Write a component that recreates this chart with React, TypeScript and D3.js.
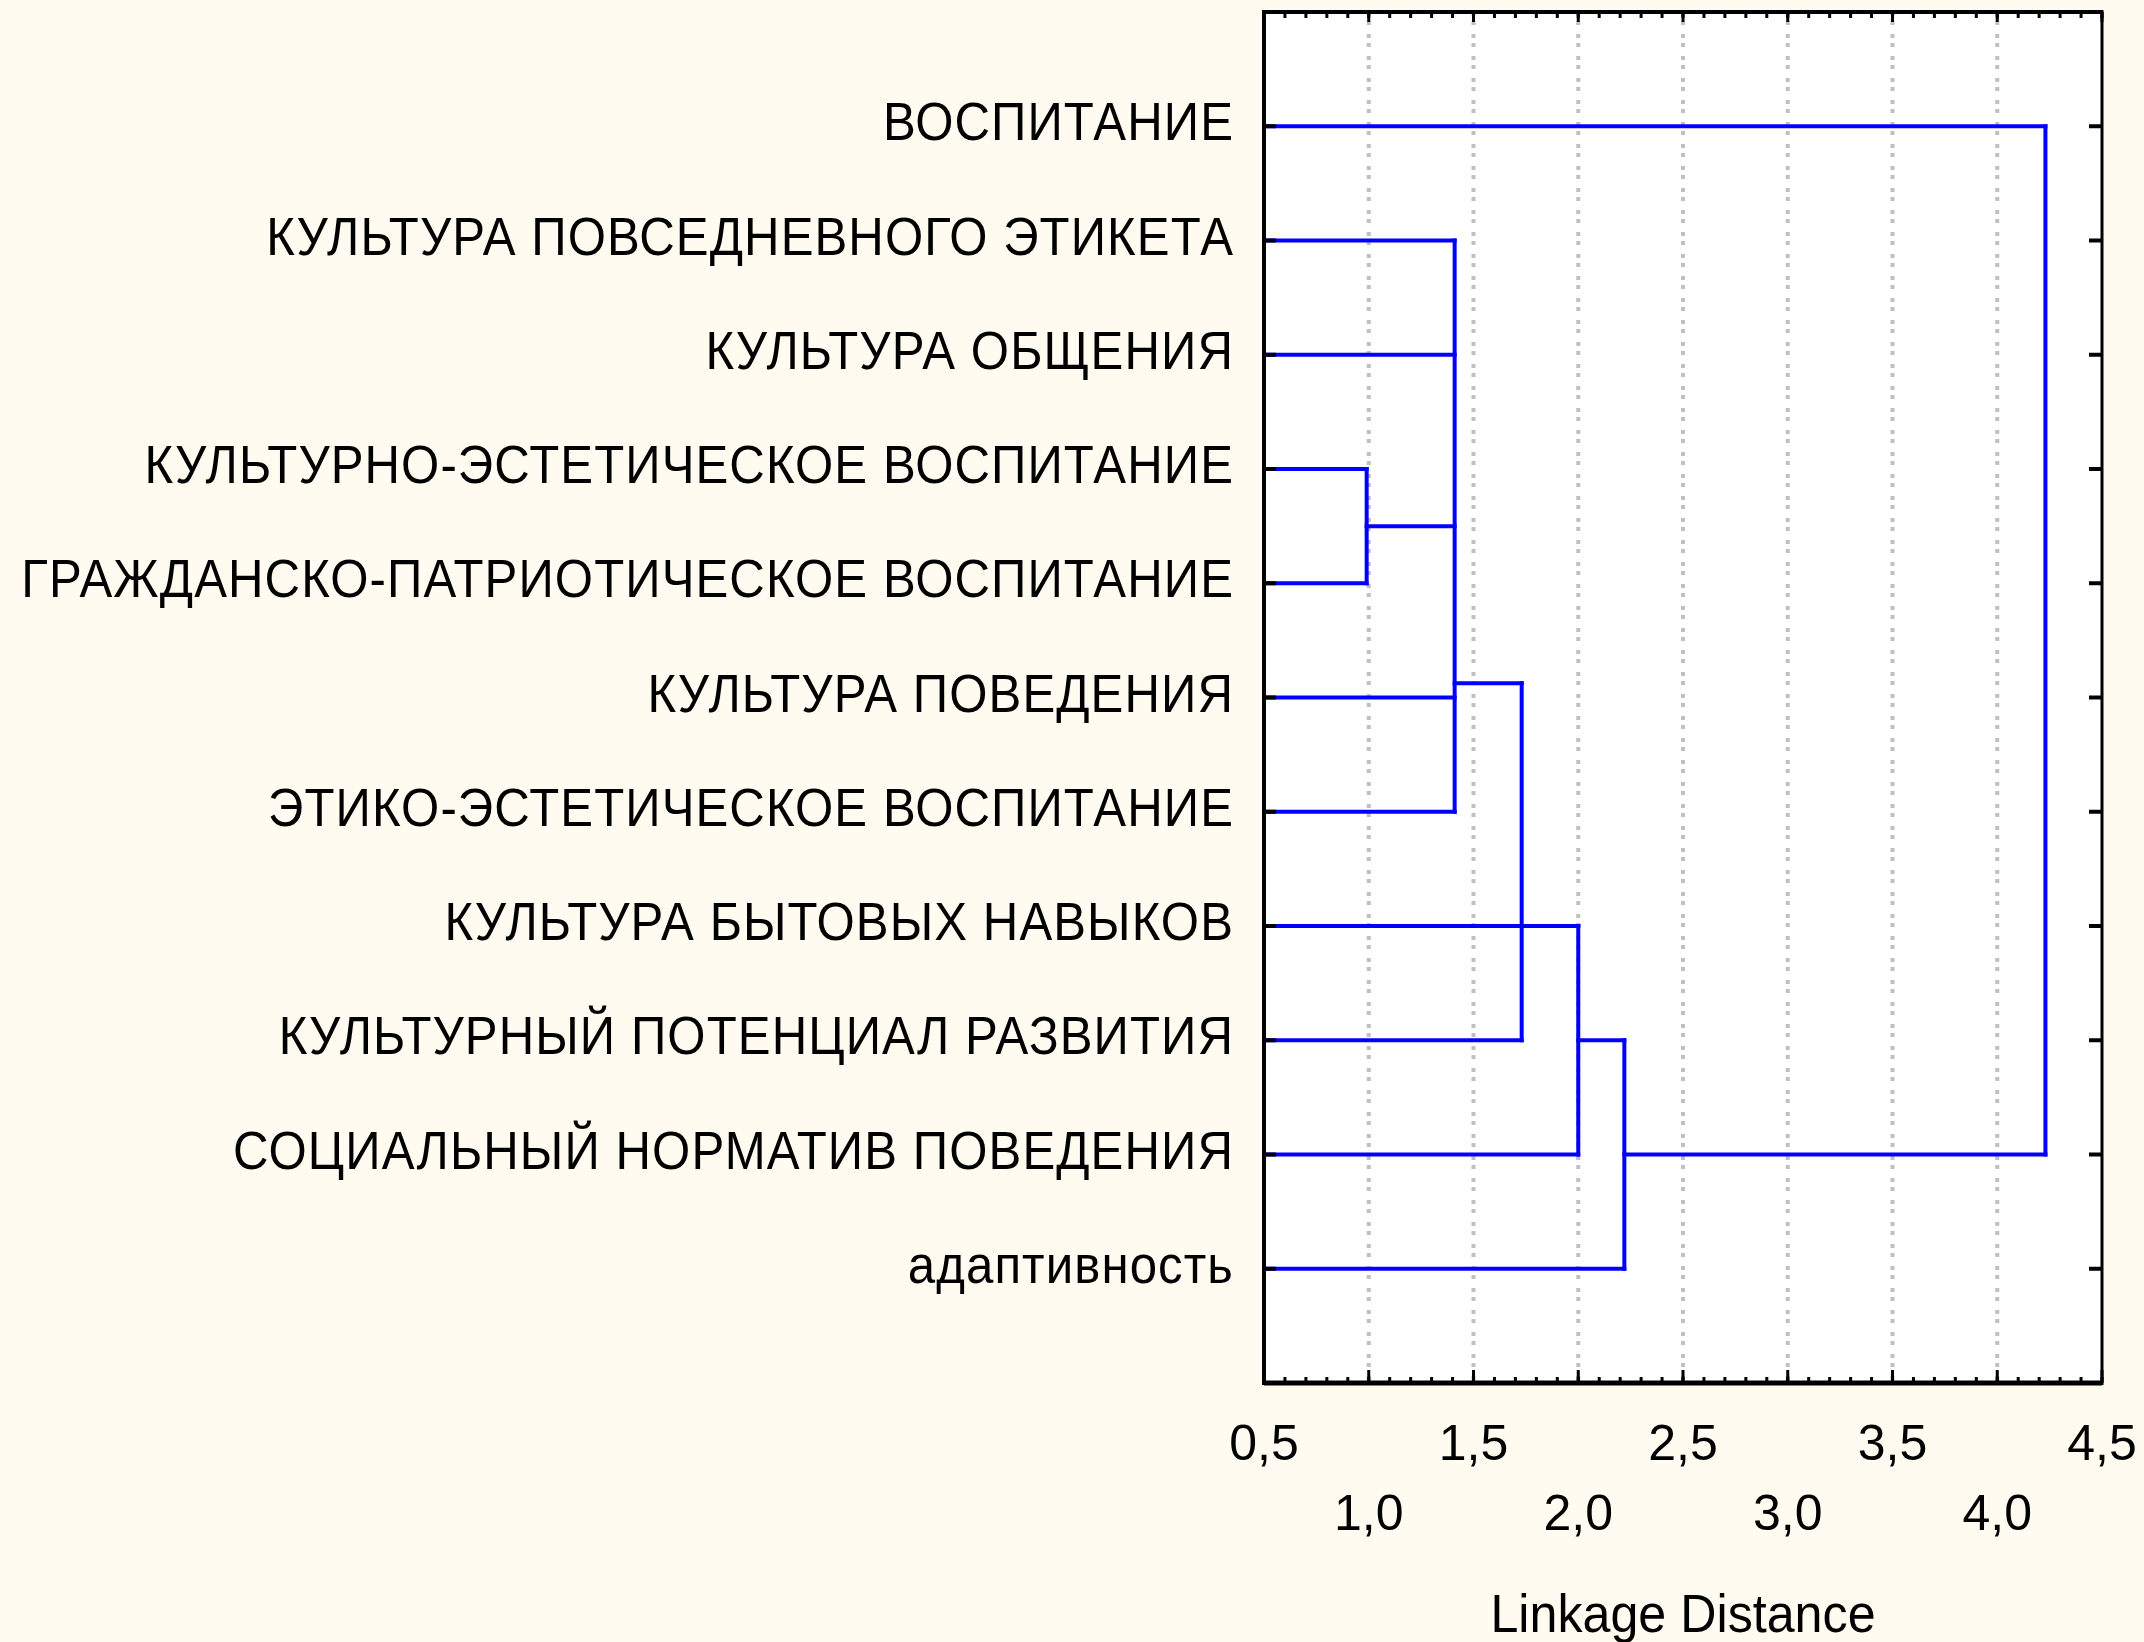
import React from 'react';
import * as d3 from 'd3';

// leaves, top to bottom
const leaves = [
  'ВОСПИТАНИЕ',
  'КУЛЬТУРА ПОВСЕДНЕВНОГО ЭТИКЕТА',
  'КУЛЬТУРА ОБЩЕНИЯ',
  'КУЛЬТУРНО-ЭСТЕТИЧЕСКОЕ ВОСПИТАНИЕ',
  'ГРАЖДАНСКО-ПАТРИОТИЧЕСКОЕ ВОСПИТАНИЕ',
  'КУЛЬТУРА ПОВЕДЕНИЯ',
  'ЭТИКО-ЭСТЕТИЧЕСКОЕ ВОСПИТАНИЕ',
  'КУЛЬТУРА БЫТОВЫХ НАВЫКОВ',
  'КУЛЬТУРНЫЙ ПОТЕНЦИАЛ РАЗВИТИЯ',
  'СОЦИАЛЬНЫЙ НОРМАТИВ ПОВЕДЕНИЯ',
  'адаптивность',
];

// joining steps: members are leaf indices or earlier cluster ids
const clusterIds = ['A', 'B', 'C', 'D', 'E', 'F'];
const clusterMembers: (number | string)[][] = [
  [3, 4],
  [1, 2, 'A', 5, 6],
  ['B', 8],
  [7, 'C', 9],
  ['D', 10],
  [0, 'E'],
];
const clusterDistances = [0.99, 1.41, 1.73, 2.0, 2.22, 4.23];
// Statistica hangs cluster C on the row of leaf 7
const clusterRowOverride: Record<string, number> = { C: 7 };

const majorTicks = [0.5, 1.0, 1.5, 2.0, 2.5, 3.0, 3.5, 4.0, 4.5];
const gridTicks = [1.0, 1.5, 2.0, 2.5, 3.0, 3.5, 4.0];
const axisTitle = 'Linkage Distance';

const W = 2144;
const H = 1642;
const plot = { left: 1264, right: 2102, top: 12, bottom: 1383 };
const FONT = '"Liberation Sans", Arial, sans-serif';

const App = () => {
  const x = d3.scaleLinear().domain([0.5, 4.5]).range([plot.left, plot.right]);
  const row = d3.scaleLinear().domain([-1, leaves.length]).range([plot.top, plot.bottom]);

  const minorTicks = d3.range(5, 46).map(d => d / 10);

  // build segments from the joining steps
  const nodeRow: Record<string, number> = {};
  const nodeDist: Record<string, number> = {};
  const segs: { x1: number; y1: number; x2: number; y2: number }[] = [];
  const rowOf = (m: number | string) => (typeof m === 'number' ? m : nodeRow[m]);
  const distOf = (m: number | string) => (typeof m === 'number' ? 0 : nodeDist[m]);

  clusterIds.forEach((id, i) => {
    const members = clusterMembers[i];
    const dist = clusterDistances[i];
    const rows = members.map(rowOf);
    members.forEach(m => {
      const r = rowOf(m);
      segs.push({ x1: x(Math.max(0.5, distOf(m))), y1: row(r), x2: x(dist), y2: row(r) });
    });
    segs.push({ x1: x(dist), y1: row(d3.min(rows)!), x2: x(dist), y2: row(d3.max(rows)!) });
    let r = rows[0];
    rows.slice(1).forEach(v => { r = (r + v) / 2; });
    nodeRow[id] = clusterRowOverride[id] ?? r;
    nodeDist[id] = dist;
  });

  return (
    <svg width={W} height={H} style={{ position: 'absolute', left: 0, top: 0 }} fontFamily={FONT}>
      <rect width={W} height={H} fill="#fffbf0" />
      <rect x={plot.left} y={plot.top} width={plot.right - plot.left} height={plot.bottom - plot.top} fill="#ffffff" />

      {gridTicks.map(t => (
        <line key={'g' + t} x1={x(t)} x2={x(t)} y1={plot.top} y2={plot.bottom}
          stroke="#c0c0c0" strokeWidth={4} strokeDasharray="4 5 4 9" />
      ))}

      {segs.map((s, i) => (
        <line key={'s' + i} x1={s.x1} y1={s.y1} x2={s.x2} y2={s.y2}
          stroke="#0000ff" strokeWidth={4} strokeLinecap="square" />
      ))}

      {/* frame */}
      <line x1={plot.left} x2={plot.right} y1={plot.top} y2={plot.top} stroke="#000" strokeWidth={4} />
      <line x1={plot.left} x2={plot.right} y1={plot.bottom} y2={plot.bottom} stroke="#000" strokeWidth={5} />
      <line x1={plot.left} x2={plot.left} y1={plot.top - 2} y2={plot.bottom + 2} stroke="#000" strokeWidth={4} />
      <line x1={plot.right} x2={plot.right} y1={plot.top - 2} y2={plot.bottom + 2} stroke="#000" strokeWidth={3} />

      {/* x ticks, inward */}
      {minorTicks.map(t => (
        <g key={'m' + t}>
          <line x1={x(t)} x2={x(t)} y1={plot.top} y2={plot.top + 6} stroke="#000" strokeWidth={3} />
          <line x1={x(t)} x2={x(t)} y1={plot.bottom} y2={plot.bottom - 6} stroke="#000" strokeWidth={3} />
        </g>
      ))}
      {majorTicks.map(t => (
        <g key={'M' + t}>
          <line x1={x(t)} x2={x(t)} y1={plot.top} y2={plot.top + 10} stroke="#000" strokeWidth={3} />
          <line x1={x(t)} x2={x(t)} y1={plot.bottom} y2={plot.bottom - 13} stroke="#000" strokeWidth={3} />
        </g>
      ))}

      {/* row ticks, inward on both sides */}
      {leaves.map((_, i) => (
        <g key={'r' + i}>
          <line x1={plot.left} x2={plot.left + 12} y1={row(i)} y2={row(i)} stroke="#000" strokeWidth={4} />
          <line x1={plot.right} x2={plot.right - 13} y1={row(i)} y2={row(i)} stroke="#000" strokeWidth={4} />
        </g>
      ))}

      {/* leaf labels */}
      {leaves.map((name, i) => (
        <text key={'l' + i} transform={`translate(${plot.left - 30},${row(i) + 14}) scale(0.91,1)`}
          textAnchor="end" fontSize={54} letterSpacing={1.2} fill="#000">{name}</text>
      ))}

      {/* x tick labels, staggered */}
      {majorTicks.map((t, i) => (
        <text key={'t' + t} x={x(t)} y={i % 2 === 0 ? 1460 : 1530} textAnchor="middle"
          fontSize={50} fill="#000">{d3.format('.1f')(t).replace('.', ',')}</text>
      ))}

      <text transform={`translate(${(plot.left + plot.right) / 2},1632) scale(0.93,1)`}
        textAnchor="middle" fontSize={54} fill="#000">{axisTitle}</text>
    </svg>
  );
};

export default App;
